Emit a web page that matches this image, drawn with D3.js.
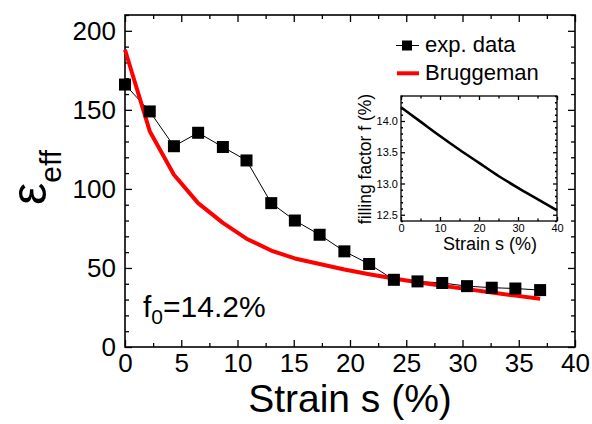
<!DOCTYPE html>
<html><head><meta charset="utf-8">
<script src="https://cdn.jsdelivr.net/npm/d3@7"></script>
<style>
html,body{margin:0;padding:0;background:#fff;}
svg{display:block;font-family:"Liberation Sans",Arial,sans-serif;}
.axis path.domain{display:none;}
.axis line{stroke:#000;stroke-width:1.3;}
</style></head>
<body><svg id="c" width="592" height="424"></svg>
<script>
// ---- data ----
const strain  = [0, 2.2, 4.35, 6.5, 8.7, 10.8, 13.0, 15.1, 17.3, 19.5, 21.7, 23.9, 26.0, 28.2, 30.4, 32.6, 34.7, 36.9];
const epsExp  = [166, 149, 127, 135.5, 126.5, 118, 91, 80, 71, 60.5, 52.5, 42.5, 41.5, 40.5, 38.5, 37.5, 37, 36];
const epsBrug = [188, 136.5, 109, 91, 78.5, 68.5, 61, 56, 52.5, 49, 46, 43.3, 41, 38.8, 36.6, 34.5, 32.5, 30.5];
const xTicks = [0, 5, 10, 15, 20, 25, 30, 35, 40];
const yTicks = [0, 50, 100, 150, 200];
const insetStrain = [0, 5, 10, 15, 20, 25, 30, 35, 40];
const insetFill   = [14.22, 13.99, 13.76, 13.54, 13.33, 13.12, 12.93, 12.75, 12.57];
const insetXTicks = [0, 10, 20, 30, 40];
const insetYTicks = [12.5, 13.0, 13.5, 14.0];
const seriesNames = ["exp. data", "Bruggeman"];

const svg = d3.select("#c");
const L = 125, R = 575, T = 15, B = 347;
const x = d3.scaleLinear().domain([0, 40]).range([L, R]);
const y = d3.scaleLinear().domain([0, 210]).range([B, T]);

const xMinor = d3.range(0, 40.01, 2.5).filter(v => !xTicks.includes(v));
const yMinor = d3.range(0, 210.01, 10).filter(v => !yTicks.includes(v));

function addAxis(g, axisFn, scale, major, minor, big, small, labels, pad, fmt, fs) {
  g.append("g").attr("class", "axis").call(axisFn(scale).tickValues(minor).tickSize(-small).tickFormat(""));
  const a = g.append("g").attr("class", "axis")
    .call(axisFn(scale).tickValues(major).tickSize(-big).tickPadding(pad).tickFormat(labels ? fmt : ""));
  a.selectAll("text").attr("fill", "#000").style("font-size", fs + "px").style("font-family", '"Liberation Sans",Arial,sans-serif');
  return a;
}

// main axes
const gx = svg.append("g").attr("transform", `translate(0,${B})`);
addAxis(gx, d3.axisBottom, x, xTicks, xMinor, 7, 4, true, 7, d3.format("d"), 26);
const gxt = svg.append("g").attr("transform", `translate(0,${T})`);
addAxis(gxt, d3.axisTop, x, xTicks, xMinor, 7, 4, false, 0, null, 26);
const gy = svg.append("g").attr("transform", `translate(${L},0)`);
addAxis(gy, d3.axisLeft, y, yTicks, yMinor, 7, 4, true, 9, d3.format("d"), 26);
const gyr = svg.append("g").attr("transform", `translate(${R},0)`);
addAxis(gyr, d3.axisRight, y, yTicks, yMinor, 7, 4, false, 0, null, 26);

svg.append("rect").attr("x", L).attr("y", T).attr("width", R - L).attr("height", B - T)
  .attr("fill", "none").attr("stroke", "#000").attr("stroke-width", 1.6);

// data
const pts = strain.map((s, i) => ({s, e: epsExp[i], b: epsBrug[i]}));
svg.append("path").datum(pts)
  .attr("d", d3.line().x(d => x(d.s)).y(d => y(d.e)))
  .attr("fill", "none").attr("stroke", "#000").attr("stroke-width", 1);
svg.append("path").datum(pts)
  .attr("d", d3.line().x(d => x(d.s)).y(d => y(d.b)))
  .attr("fill", "none").attr("stroke", "#ff0000").attr("stroke-width", 4).attr("stroke-linejoin", "round");
const sq = 12;
svg.selectAll("rect.pt").data(pts).enter().append("rect").attr("class", "pt")
  .attr("x", d => x(d.s) - sq / 2).attr("y", d => y(d.e) - sq / 2)
  .attr("width", sq).attr("height", sq).attr("fill", "#000");

// axis titles
svg.append("text").attr("x", (L + R) / 2).attr("y", 412).attr("text-anchor", "middle")
  .style("font-size", "39px").text("Strain s (%)");
const yt = svg.append("text").attr("transform", "translate(46,205) rotate(-90)");
yt.append("tspan").style("font-size", "50px").text("ε");
yt.append("tspan").attr("dy", 15).style("font-size", "30px").text("eff");

// annotation
const ann = svg.append("text").attr("x", 143).attr("y", 317).style("font-size", "30px");
ann.append("tspan").text("f");
ann.append("tspan").attr("dy", 7).style("font-size", "21px").text("0");
ann.append("tspan").attr("dy", -7).text("=14.2%");

// legend
const lg = svg.append("g");
lg.append("line").attr("x1", 396).attr("x2", 419).attr("y1", 45.5).attr("y2", 45.5).attr("stroke", "#000").attr("stroke-width", 1);
lg.append("rect").attr("x", 402).attr("y", 40.5).attr("width", 10).attr("height", 10).attr("fill", "#000");
lg.append("text").attr("x", 425).attr("y", 52).style("font-size", "22px").text(seriesNames[0]);
lg.append("line").attr("x1", 397).attr("x2", 419).attr("y1", 73.3).attr("y2", 73.3).attr("stroke", "#ff0000").attr("stroke-width", 4);
lg.append("text").attr("x", 425).attr("y", 80).style("font-size", "22px").text(seriesNames[1]);

// inset
const iL = 401, iR = 557, iT = 96, iB = 221;
const ix = d3.scaleLinear().domain([0, 40]).range([iL, iR]);
const iy = d3.scaleLinear().domain([12.4, 14.4]).range([iB, iT]);
const ixMinor = d3.range(5, 40, 10);
const iyMinor = d3.range(12.4, 14.41, 0.1).map(v => +v.toFixed(1)).filter(v => !insetYTicks.includes(v));
const ig = svg.append("g");
const igx = ig.append("g").attr("transform", `translate(0,${iB})`);
addAxis(igx, d3.axisBottom, ix, insetXTicks, ixMinor, 4, 2.5, true, 3, d3.format("d"), 11);
const igxt = ig.append("g").attr("transform", `translate(0,${iT})`);
addAxis(igxt, d3.axisTop, ix, insetXTicks, ixMinor, 4, 2.5, false, 0, null, 11);
const igy = ig.append("g").attr("transform", `translate(${iL},0)`);
addAxis(igy, d3.axisLeft, iy, insetYTicks, iyMinor, 4, 2, true, 3, d3.format(".1f"), 11);
const igyr = ig.append("g").attr("transform", `translate(${iR},0)`);
addAxis(igyr, d3.axisRight, iy, insetYTicks, iyMinor, 4, 2, false, 0, null, 11);
ig.selectAll(".axis line").attr("stroke-width", 1);
ig.append("rect").attr("x", iL).attr("y", iT).attr("width", iR - iL).attr("height", iB - iT)
  .attr("fill", "none").attr("stroke", "#000").attr("stroke-width", 1.3);
const ipts = insetStrain.map((s, i) => ({s, f: insetFill[i]}));
ig.append("path").datum(ipts)
  .attr("d", d3.line().curve(d3.curveMonotoneX).x(d => ix(d.s)).y(d => iy(d.f)))
  .attr("fill", "none").attr("stroke", "#000").attr("stroke-width", 2.6);
ig.append("text").attr("x", 490).attr("y", 250).attr("text-anchor", "middle")
  .style("font-size", "18px").text("Strain s (%)");
ig.append("text").attr("transform", "translate(371,159) rotate(-90)").attr("text-anchor", "middle")
  .style("font-size", "17.5px").text("filling factor f (%)");
</script></body></html>
